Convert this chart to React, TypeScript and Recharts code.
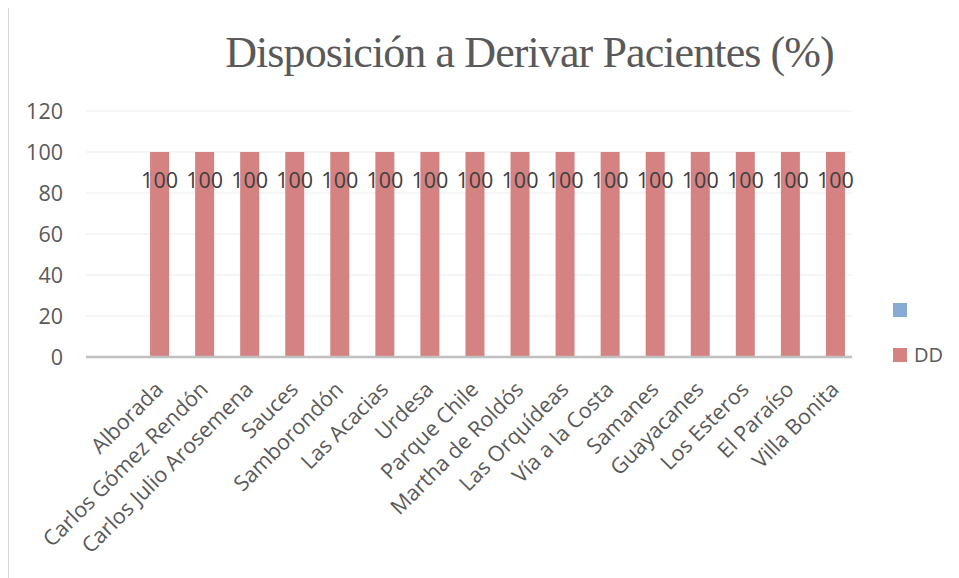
import React from "react";
import {
  BarChart, Bar, XAxis, YAxis, CartesianGrid, Legend, LabelList,
} from "recharts";

const CATEGORIES = [
  "", "Alborada", "Carlos Gómez Rendón", "Carlos Julio Arosemena", "Sauces",
  "Samborondón", "Las Acacias", "Urdesa", "Parque Chile", "Martha de Roldós",
  "Las Orquídeas", "Vía a la Costa", "Samanes", "Guayacanes", "Los Esteros",
  "El Paraíso", "Villa Bonita",
];
const DD_VALUES = [null, 100, 100, 100, 100, 100, 100, 100, 100, 100, 100, 100, 100, 100, 100, 100, 100];
const BLANK_VALUES = CATEGORIES.map(() => null);
const Y_TICKS = [0, 20, 40, 60, 80, 100, 120];

const TITLE = "Disposición a Derivar Pacientes (%)";
const SERIES = [
  { key: "blank", label: "", color: "#88abd6" },
  { key: "DD", label: "DD", color: "#d48282" },
];

const data = CATEGORIES.map((name, i) => ({
  name,
  blank: BLANK_VALUES[i],
  DD: DD_VALUES[i],
}));

const FONT = "'Open Sans', sans-serif";
const TICK_SIZE = 21.5;

function LegendBox() {
  return (
    <div style={{ paddingLeft: 41, fontFamily: FONT, fontSize: 20, color: "#595959" }}>
      {SERIES.map((s) => (
        <div key={s.key} style={{ height: 45, display: "flex", alignItems: "center" }}>
          <span style={{ width: 14, height: 14, background: s.color, display: "inline-block", marginRight: 7, flex: "none" }} />
          <span>{s.label}</span>
        </div>
      ))}
    </div>
  );
}

export default function App() {
  return (
    <div
      style={{
        position: "relative", width: 951, height: 571, marginTop: -1,
        borderLeft: "1px solid #d9d9d9", borderTop: "1px solid #d9d9d9",
        overflow: "hidden", background: "#fff",
      }}
    >
      <div
        style={{
          position: "absolute", left: 520.5, top: 23, transform: "translateX(-50%)",
          whiteSpace: "nowrap", fontFamily: "'Liberation Serif', serif", fontSize: 44,
          letterSpacing: -0.9, lineHeight: "44px", color: "#595959", zIndex: 2,
        }}
      >
        {TITLE}
      </div>
      <BarChart
        width={950}
        height={570}
        data={data}
        margin={{ top: 103, right: 37, left: 0, bottom: 0 }}
        barSize={19}
        barGap={-7}
      >
        <CartesianGrid stroke="#ececec" vertical={false} />
        <XAxis
          dataKey="name"
          interval={0}
          height={221}
          tickLine={false}
          tickSize={0}
          tickMargin={23}
          angle={-45}
          textAnchor="end"
          axisLine={{ stroke: "#c0c0c0", strokeWidth: 2.5 }}
          tick={{ fontSize: TICK_SIZE, fill: "#595959", fontFamily: FONT }}
        />
        <YAxis
          domain={[0, 120]}
          ticks={Y_TICKS}
          width={77}
          axisLine={false}
          tickLine={false}
          tickSize={0}
          tickMargin={23}
          tick={{ fontSize: TICK_SIZE, fill: "#595959", fontFamily: FONT }}
        />
        <Legend
          layout="vertical"
          align="right"
          verticalAlign="middle"
          content={<LegendBox />}
          wrapperStyle={{ width: 70, top: 279 }}
        />
        {SERIES.map((s) => (
          <Bar key={s.key} dataKey={s.key} fill={s.color} isAnimationActive={false}>
            {s.key === "DD" && (
              <LabelList
                dataKey="DD"
                position="insideTop"
                offset={21}
                fill="#404040"
                style={{ fontSize: TICK_SIZE, fontFamily: FONT }}
              />
            )}
          </Bar>
        ))}
      </BarChart>
    </div>
  );
}
